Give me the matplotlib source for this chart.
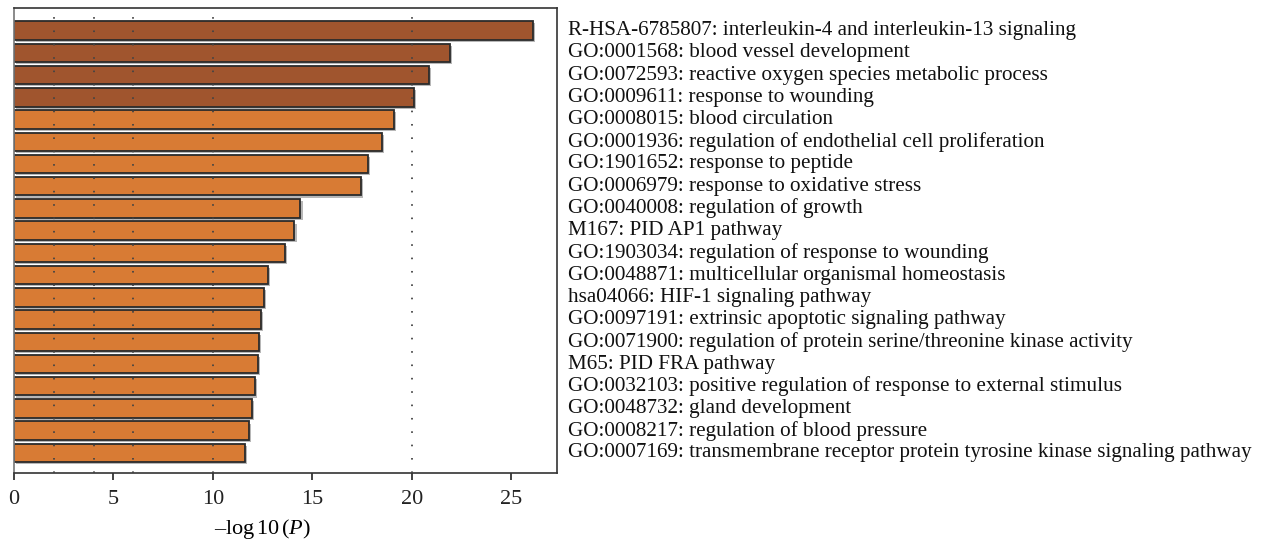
import numpy as np
import matplotlib
matplotlib.use("Agg")
import matplotlib.pyplot as plt
import matplotlib.patheffects as pe

terms = [
    "R-HSA-6785807: interleukin-4 and interleukin-13 signaling",
    "GO:0001568: blood vessel development",
    "GO:0072593: reactive oxygen species metabolic process",
    "GO:0009611: response to wounding",
    "GO:0008015: blood circulation",
    "GO:0001936: regulation of endothelial cell proliferation",
    "GO:1901652: response to peptide",
    "GO:0006979: response to oxidative stress",
    "GO:0040008: regulation of growth",
    "M167: PID AP1 pathway",
    "GO:1903034: regulation of response to wounding",
    "GO:0048871: multicellular organismal homeostasis",
    "hsa04066: HIF-1 signaling pathway",
    "GO:0097191: extrinsic apoptotic signaling pathway",
    "GO:0071900: regulation of protein serine/threonine kinase activity",
    "M65: PID FRA pathway",
    "GO:0032103: positive regulation of response to external stimulus",
    "GO:0048732: gland development",
    "GO:0008217: regulation of blood pressure",
    "GO:0007169: transmembrane receptor protein tyrosine kinase signaling pathway",
]
neg_log_p = [26.1, 21.9, 20.85, 20.1, 19.1, 18.5, 17.8, 17.45, 14.4, 14.1,
             13.6, 12.75, 12.55, 12.43, 12.33, 12.26, 12.1, 11.96, 11.82, 11.6]
top_group = 4  # first four terms drawn darker

dark = "#A0552E"
light = "#D87B34"
colors = [dark if i < top_group else light for i in range(len(terms))]

plt.rcParams["font.family"] = ["Liberation Serif", "DejaVu Serif"]
plt.rcParams["mathtext.fontset"] = "custom"
plt.rcParams["mathtext.rm"] = "Liberation Serif"
plt.rcParams["mathtext.it"] = "Liberation Serif:italic"

fig = plt.figure(figsize=(12.69, 5.43), dpi=100)
ax = fig.add_axes([0.011, 0.129, 0.428, 0.856])

y = np.arange(len(terms))
bars = ax.barh(y, neg_log_p, height=0.83, color=colors, edgecolor="#2b2b2b",
               linewidth=1.3, zorder=2)
for b in bars:
    b.set_path_effects([pe.SimplePatchShadow(offset=(1.5, -1.5), shadow_rgbFace="#888888", alpha=0.6),
                        pe.Normal()])

for gx in [2, 4, 6, 10, 20]:
    ax.axvline(gx, color="#444444", linewidth=1.3, linestyle=(0, (0.9, 6.5)), zorder=3)

ax.set_xlim(0, 27.3)
ax.set_ylim(len(terms) - 0.1, -1.01)
ax.set_yticks([])
ax.set_xticks([0, 5, 10, 15, 20, 25])
ax.tick_params(axis="x", direction="out", length=5, width=1.2, labelsize=16, pad=7, colors="#222222")
for s in ax.spines.values():
    s.set_color("#333333")
    s.set_linewidth(1.2)
ax.spines["left"].set_color("#777777")

ax.set_xlabel("\u2013log$\\,$10$\\,$($P$)", fontsize=16)
ax.xaxis.set_label_coords(0.458, -0.095)

for i, t in enumerate(terms):
    ax.text(1.02, i, t, transform=ax.get_yaxis_transform(), ha="left", va="center",
            fontsize=15.2, color="#111111")

fig.savefig("out.png", dpi=100)
